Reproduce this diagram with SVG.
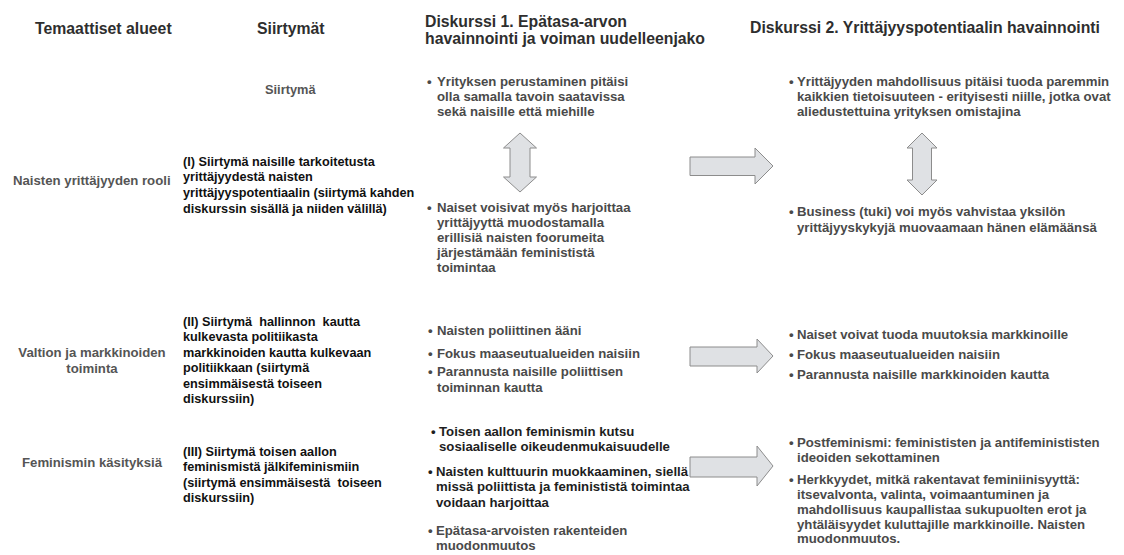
<svg xmlns="http://www.w3.org/2000/svg" width="1124" height="555" viewBox="0 0 1124 555">
<style>
text{font-family:"Liberation Sans",Arial,sans-serif;font-weight:bold;white-space:pre}
.h{font-size:15.8px;fill:#2e2e2e}
.c1{font-size:13.2px;fill:#555}
.c2{font-size:12.7px;fill:#111}
.b{font-size:13.2px;fill:#4a4a4a}
.bk{font-size:13.2px;fill:#1e1e1e}
.sub{font-size:12.8px;fill:#555}
.arr{fill:#dfe1e4;stroke:#8c8c8c;stroke-width:1;stroke-linejoin:round}
</style>
<rect width="1124" height="555" fill="#fff"/>
<g id="headers">
<text class="h" x="35" y="34">Temaattiset alueet</text>
<text class="h" x="257" y="34">Siirtymät</text>
<text class="h" x="425" y="27">Diskurssi 1. Epätasa-arvon</text>
<text class="h" x="425" y="44">havainnointi ja voiman uudelleenjako</text>
<text class="h" x="750" y="33">Diskurssi 2. Yrittäjyyspotentiaalin havainnointi</text>
<text class="sub" x="265" y="94">Siirtymä</text>
</g>
<g id="theme1"><text class="c1" x="13" y="185">Naisten yrittäjyyden rooli</text></g>
<g id="theme2"><text class="c1" x="92" y="357" text-anchor="middle">Valtion ja markkinoiden</text><text class="c1" x="92" y="373" text-anchor="middle">toiminta</text></g>
<g id="theme3"><text class="c1" x="22" y="467">Feminismin käsityksiä</text></g>
<g id="trans1">
<text class="c2" x="183" y="166">(I) Siirtymä naisille tarkoitetusta</text>
<text class="c2" x="183" y="181">yrittäjyydestä naisten</text>
<text class="c2" x="183" y="197">yrittäjyyspotentiaalin (siirtymä kahden</text>
<text class="c2" x="183" y="213">diskurssin sisällä ja niiden välillä)</text>
</g>
<g id="trans2">
<text class="c2" x="183" y="326">(II) Siirtymä  hallinnon  kautta</text>
<text class="c2" x="183" y="341">kulkevasta politiikasta</text>
<text class="c2" x="183" y="357">markkinoiden kautta kulkevaan</text>
<text class="c2" x="183" y="372">politiikkaan (siirtymä</text>
<text class="c2" x="183" y="388">ensimmäisestä toiseen</text>
<text class="c2" x="183" y="403">diskurssiin)</text>
</g>
<g id="trans3">
<text class="c2" x="183" y="456">(III) Siirtymä toisen aallon</text>
<text class="c2" x="183" y="471">feminismistä jälkifeminismiin</text>
<text class="c2" x="183" y="487">(siirtymä ensimmäisestä  toiseen</text>
<text class="c2" x="183" y="502">diskurssiin)</text>
</g>
<g id="d1-row1a">
<text class="b" x="427" y="86">•</text>
<text class="b" x="437" y="86">Yrityksen perustaminen pitäisi</text>
<text class="b" x="437" y="101">olla samalla tavoin saatavissa</text>
<text class="b" x="437" y="116">sekä naisille että miehille</text>
</g>
<g id="d1-row1b">
<text class="b" x="427" y="212">•</text>
<text class="b" x="437" y="212">Naiset voisivat myös harjoittaa</text>
<text class="b" x="437" y="227">yrittäjyyttä muodostamalla</text>
<text class="b" x="437" y="242">erillisiä naisten foorumeita</text>
<text class="b" x="437" y="257">järjestämään feminististä</text>
<text class="b" x="437" y="272">toimintaa</text>
</g>
<g id="d2-row1a">
<text class="b" x="789" y="86">•</text>
<text class="b" x="797" y="86">Yrittäjyyden mahdollisuus pitäisi tuoda paremmin</text>
<text class="b" x="797" y="101">kaikkien tietoisuuteen - erityisesti niille, jotka ovat</text>
<text class="b" x="797" y="116">aliedustettuina yrityksen omistajina</text>
</g>
<g id="d2-row1b">
<text class="b" x="789" y="216">•</text>
<text class="b" x="797" y="216">Business (tuki) voi myös vahvistaa yksilön</text>
<text class="b" x="797" y="232">yrittäjyyskykyjä muovaamaan hänen elämäänsä</text>
</g>
<g id="d1-row2">
<text class="b" x="428" y="335">•</text>
<text class="b" x="437" y="335">Naisten poliittinen ääni</text>
<text class="b" x="428" y="358">•</text>
<text class="b" x="437" y="358">Fokus maaseutualueiden naisiin</text>
<text class="b" x="428" y="376">•</text>
<text class="b" x="437" y="376">Parannusta naisille poliittisen</text>
<text class="b" x="437" y="392">toiminnan kautta</text>
</g>
<g id="d2-row2">
<text class="b" x="789" y="339">•</text>
<text class="b" x="797" y="339">Naiset voivat tuoda muutoksia markkinoille</text>
<text class="b" x="789" y="359">•</text>
<text class="b" x="797" y="359">Fokus maaseutualueiden naisiin</text>
<text class="b" x="789" y="379">•</text>
<text class="b" x="797" y="379">Parannusta naisille markkinoiden kautta</text>
</g>
<g id="d1-row3">
<text class="bk" x="431" y="436">•</text>
<text class="bk" x="439" y="436">Toisen aallon feminismin kutsu</text>
<text class="bk" x="439" y="451">sosiaaliselle oikeudenmukaisuudelle</text>
<text class="bk" x="428" y="476">•</text>
<text class="bk" x="436" y="476">Naisten kulttuurin muokkaaminen, siellä</text>
<text class="bk" x="436" y="491">missä poliittista ja feminististä toimintaa</text>
<text class="bk" x="436" y="507">voidaan harjoittaa</text>
<text class="b" x="428" y="535">•</text>
<text class="b" x="436" y="535">Epätasa-arvoisten rakenteiden</text>
<text class="b" x="436" y="550">muodonmuutos</text>
</g>
<g id="d2-row3">
<text class="b" x="789" y="447">•</text>
<text class="b" x="797" y="447">Postfeminismi: feminististen ja antifeminististen</text>
<text class="b" x="797" y="462">ideoiden sekottaminen</text>
<text class="b" x="789" y="484">•</text>
<text class="b" x="797" y="484">Herkkyydet, mitkä rakentavat feminiinisyyttä:</text>
<text class="b" x="797" y="499">itsevalvonta, valinta, voimaantuminen ja</text>
<text class="b" x="797" y="514">mahdollisuus kaupallistaa sukupuolten erot ja</text>
<text class="b" x="797" y="529">yhtäläisyydet kuluttajille markkinoille. Naisten</text>
<text class="b" x="797" y="543">muodonmuutos.</text>
</g>
<g id="connectors">
<path class="arr" d="M520,133 L536.5,148 L530,148 L530,177 L536.5,177 L520,192 L503.5,177 L510,177 L510,148 L503.5,148 Z"/>
<path class="arr" d="M922,133 L937,148 L931.5,148 L931.5,180 L937,180 L922,195 L907,180 L912.5,180 L912.5,148 L907,148 Z"/>
<path class="arr" d="M690,157 L755,157 L755,148 L773,166 L755,184 L755,175.5 L690,175.5 Z"/>
<path class="arr" d="M690,347 L757,347 L757,339 L773,356 L757,373 L757,366 L690,366 Z"/>
<path class="arr" d="M690,457 L757,457 L757,446 L773,466 L757,486 L757,477 L690,477 Z"/>
</g>
</svg>
